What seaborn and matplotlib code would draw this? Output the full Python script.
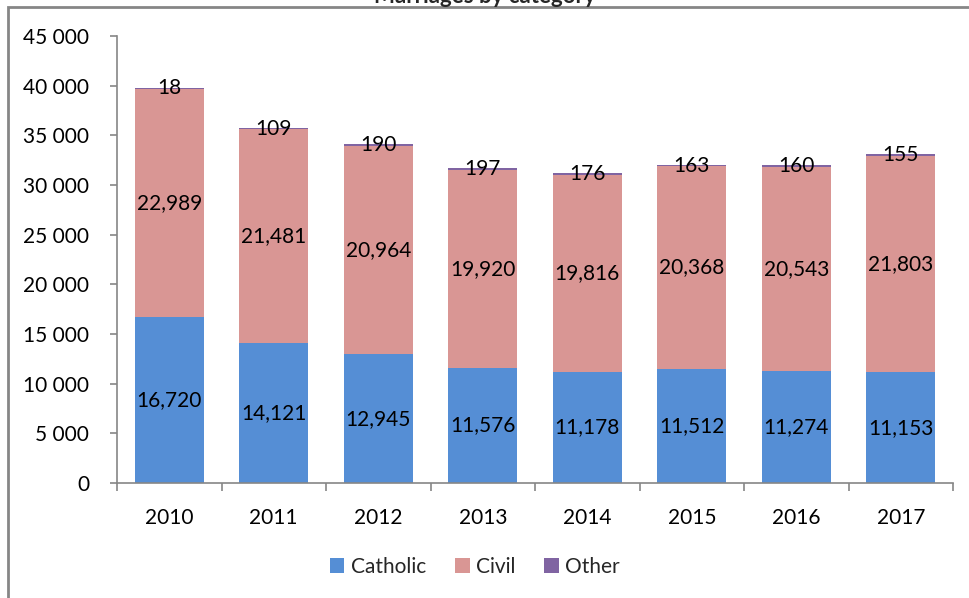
import matplotlib
matplotlib.use("Agg")
import matplotlib.pyplot as plt
import seaborn as sns
import pandas as pd
import numpy as np
from matplotlib.patches import Patch, Rectangle
from matplotlib.ticker import FuncFormatter, FixedLocator

years = ["2010", "2011", "2012", "2013", "2014", "2015", "2016", "2017"]
catholic = [16720, 14121, 12945, 11576, 11178, 11512, 11274, 11153]
civil = [22989, 21481, 20964, 19920, 19816, 20368, 20543, 21803]
other = [18, 109, 190, 197, 176, 163, 160, 155]
series_names = ["Catholic", "Civil", "Other"]
colors = ["#558ED5", "#D99694", "#8064A2"]
title_text = "Marriages by category"

sns.set_theme(style="white")
plt.rcParams["font.family"] = ["Lato", "DejaVu Sans"]

df = pd.DataFrame({"year": years, "Catholic": catholic, "Civil": civil, "Other": other})
df["cc"] = df["Catholic"] + df["Civil"]
df["total"] = df["cc"] + df["Other"]

fig = plt.figure(figsize=(9.69, 5.98), dpi=100)
ax = fig.add_axes([117 / 969, 1 - 483 / 598, (953 - 117) / 969, (483 - 36) / 598])

W = 0.66
sns.barplot(data=df, x="year", y="total", color=colors[2], width=W, saturation=1, ax=ax, linewidth=0)
sns.barplot(data=df, x="year", y="cc", color=colors[1], width=W, saturation=1, ax=ax, linewidth=0)
sns.barplot(data=df, x="year", y="Catholic", color=colors[0], width=W, saturation=1, ax=ax, linewidth=0)

fs = 15
for i in range(len(years)):
    ax.text(i, catholic[i] / 2, f"{catholic[i]:,}", ha="center", va="center", fontsize=fs, color="black")
    ax.text(i, catholic[i] + civil[i] / 2, f"{civil[i]:,}", ha="center", va="center", fontsize=fs, color="black")
    ax.text(i, catholic[i] + civil[i] + other[i] / 2, f"{other[i]:,}", ha="center", va="center", fontsize=fs, color="black")

ax.set_ylim(0, 45000)
ax.set_xlim(-0.5, len(years) - 0.5)
ax.set_yticks(np.arange(0, 45001, 5000))
ax.yaxis.set_major_formatter(FuncFormatter(lambda v, p: f"{int(v):,}".replace(",", " ")))
ax.set_xlabel("")
ax.set_ylabel("")

spine_c = "#868686"
for s in ["top", "right"]:
    ax.spines[s].set_visible(False)
for s in ["left", "bottom"]:
    ax.spines[s].set_color(spine_c)
    ax.spines[s].set_linewidth(1.2)

ax.tick_params(axis="y", which="major", direction="out", length=5, width=1.2, color=spine_c,
               labelsize=fs, pad=15, left=True, labelcolor="black")
ax.tick_params(axis="x", which="major", length=0, labelsize=fs, pad=18, labelcolor="black")
ax.xaxis.set_minor_locator(FixedLocator(np.arange(-0.5, len(years), 1.0)))
ax.tick_params(axis="x", which="minor", direction="out", length=6, width=1.2, color=spine_c, bottom=True)

handles = [Patch(facecolor=c, edgecolor="none", label=n) for c, n in zip(colors, series_names)]
fig.legend(handles=handles, loc="center", bbox_to_anchor=(0.49, 1 - 567 / 598), ncol=3, frameon=False,
           fontsize=fs, handlelength=0.7, handleheight=0.7, handletextpad=0.3, columnspacing=1.4)

# outer chart frame (left and top edges visible)
fig.add_artist(Rectangle((8 / 969, -0.2), 1.2, 1.2 - 7 / 598 , transform=fig.transFigure,
                         fill=False, edgecolor=spine_c, linewidth=2))
fig.text(0.5, 1 - 3 / 598, title_text, ha="center", va="baseline", fontsize=16, fontweight="bold")

fig.savefig("out.png", dpi=100)
